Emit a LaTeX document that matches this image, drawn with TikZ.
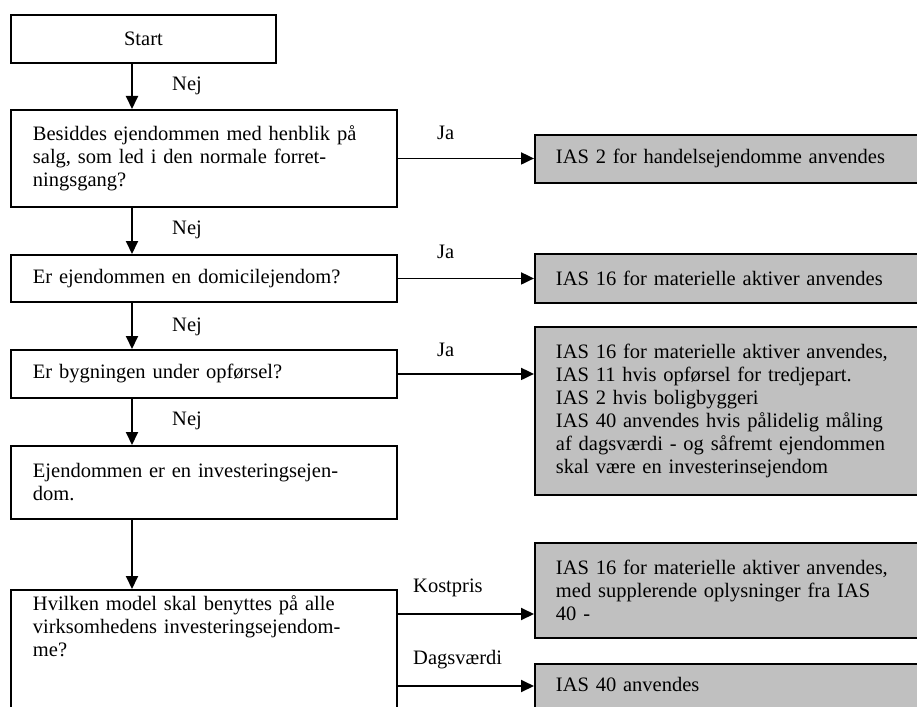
\documentclass[tikz,border=0pt]{standalone}
\usepackage{fontspec}
\setmainfont{Liberation Serif}
\usetikzlibrary{arrows.meta}
\definecolor{boxgrey}{RGB}{192,192,192}
\tikzset{
  txt/.style={font=\fontsize{20.5}{23}\selectfont},
  startbox/.style={txt, draw, line width=1.9pt, anchor=north west,
    minimum width=265pt, minimum height=48pt, inner sep=0pt},
  qbox/.style={txt, draw, line width=1.9pt, anchor=north west,
    minimum width=386pt, text width=342pt, inner xsep=22pt, inner ysep=0pt, align=left},
  rbox/.style={txt, draw, fill=boxgrey, line width=1.9pt, anchor=north west,
    minimum width=400pt, text width=358pt, inner xsep=21pt, inner ysep=0pt, align=left},
  lbl/.style={txt, anchor=west, inner sep=0pt},
  flow/.style={line width=1.9pt, -{Triangle[width=12pt,length=13pt]}}
}
\begin{document}
\begin{tikzpicture}[x=1pt, y=-1pt]
  \useasboundingbox (0,0) rectangle (917,706);
  \clip (0,0) rectangle (917,706);

  % decision column
  \node[startbox] (start) at (10,14) {Start};
  \node[qbox, minimum height=97pt] (q1) at (10,109)
    {Besiddes ejendommen med henblik på\\salg, som led i den normale forret-\\ningsgang?};
  \node[qbox, minimum height=47pt] (q2) at (10,254) {Er ejendommen en domicilejendom?};
  \node[qbox, minimum height=48pt] (q3) at (10,349) {Er bygningen under opførsel?};
  \node[qbox, minimum height=73pt] (q4) at (10,445)
    {Ejendommen er en investeringsejen-\\dom.};
  \node[qbox, text height=21pt, text depth=150pt] (q5) at (10,589)
    {Hvilken model skal benyttes på alle\\virksomhedens investeringsejendom-\\me?};

  % outcome column
  \node[rbox, minimum height=48pt] (r1) at (534,134) {IAS 2 for handelsejendomme anvendes};
  \node[rbox, minimum height=49pt] (r2) at (534,253) {IAS 16 for materielle aktiver anvendes};
  \node[rbox, minimum height=168pt] (r3) at (534,326)
    {IAS 16 for materielle aktiver anvendes,\\IAS 11 hvis opførsel for tredjepart.\\IAS 2 hvis boligbyggeri\\IAS 40 anvendes hvis pålidelig måling\\af dagsværdi - og såfremt ejendommen\\skal være en investerinsejendom};
  \node[rbox, minimum height=95pt] (r5) at (534,542)
    {IAS 16 for materielle aktiver anvendes,\\med supplerende oplysninger fra IAS\\40 -};
  \node[rbox, text height=28pt, text depth=80pt] (r6) at (534,663) {IAS 40 anvendes};

  % helper coordinates
  \coordinate (spine) at (132,0);
  \coordinate (kostY) at (0,614);
  \coordinate (dagsY) at (0,686);

  % vertical "Nej" path
  \draw[flow] (start.south -| spine) -- (q1.north -| spine);
  \draw[flow] (q1.south -| spine) -- (q2.north -| spine);
  \draw[flow] (q2.south -| spine) -- (q3.north -| spine);
  \draw[flow] (q3.south -| spine) -- (q4.north -| spine);
  \draw[flow] (q4.south -| spine) -- (q5.north -| spine);

  \node[lbl] (n1) at (172,86) {Nej};
  \node[lbl] (n2) at (172,230) {Nej};
  \node[lbl] (n3) at (172,327) {Nej};
  \node[lbl] (n4) at (172,421) {Nej};

  % horizontal "Ja" branches
  \draw[flow] (q1.east) -- (q1.east -| r1.west);
  \draw[flow] (q2.east) -- (q2.east -| r2.west);
  \draw[flow] (q3.east) -- (q3.east -| r3.west);
  \draw[flow] (q5.east |- kostY) -- (r5.west |- kostY);
  \draw[flow] (q5.east |- dagsY) -- (r6.west |- dagsY);

  \node[lbl] (j1) at (437,133) {Ja};
  \node[lbl] (j2) at (437,252) {Ja};
  \node[lbl] (j3) at (437,350) {Ja};
  \node[lbl] (kp) at (413,588) {Kostpris};
  \node[lbl] (dv) at (413,660) {Dagsværdi};
\end{tikzpicture}
\end{document}
